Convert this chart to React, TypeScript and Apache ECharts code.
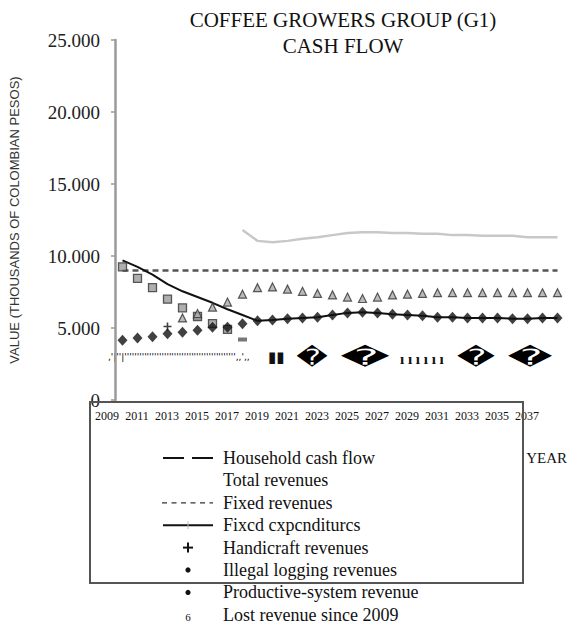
import React, { useEffect, useRef } from "react";
import * as echarts from "echarts";

const years = [
  "2009", "2010", "2011", "2012", "2013", "2014", "2015", "2016", "2017", "2018",
  "2019", "2020", "2021", "2022", "2023", "2024", "2025", "2026", "2027", "2028",
  "2029", "2030", "2031", "2032", "2033", "2034", "2035", "2036", "2037", "2038",
];

const yTicks = [0, 5000, 10000, 15000, 20000, 25000];

const totalRevenues = [
  null, null, null, null, null, null, null, null,
  11800, 11050, 10950, 11050, 11200, 11300, 11450, 11600, 11650, 11650, 11600, 11600,
  11550, 11550, 11450, 11450, 11400, 11400, 11400, 11300, 11300, 11300,
];

const fixedRevenues = [
  9000, 9000, 9000, 9000, 9000, 9000, 9000, 9000, 9000, 9000,
  9000, 9000, 9000, 9000, 9000, 9000, 9000, 9000, 9000, 9000,
  9000, 9000, 9000, 9000, 9000, 9000, 9000, 9000, 9000, 9000,
];

const fixedExpenditures = [
  9700, 9250, 8700, 8050, 7550, 7150, 6750, 6300, 5900, 5500,
  5550, 5650, 5700, 5750, 5900, 6050, 6100, 6050, 5950, 5900,
  5850, 5750, 5750, 5700, 5700, 5700, 5650, 5650, 5700, 5700,
];

const productiveRevenue = [
  4150, 4300, 4400, 4600, 4700, 4850, 5050, 5050, 5300, 5500,
  5550, 5650, 5700, 5750, 5900, 6050, 6100, 6050, 5950, 5900,
  5850, 5750, 5750, 5700, 5700, 5700, 5650, 5650, 5700, 5700,
];

const householdCashFlow = [
  null, null, null, null, 5700, 6000, 6450, 6800, 7350, 7800,
  7850, 7700, 7550, 7400, 7300, 7150, 7050, 7150, 7300, 7350,
  7400, 7450, 7450, 7450, 7450, 7450, 7450, 7450, 7450, 7450,
];

const lostRevenue = [
  9250, 8450, 7800, 7000, 6400, 5800, 5300, 4900, null, null,
  null, null, null, null, null, null, null, null, null, null,
  null, null, null, null, null, null, null, null, null, null,
];

const illegalLogging = [
  null, null, null, null, null, null, null, null, 4200, null,
  null, null, null, null, null, null, null, null, null, null,
  null, null, null, null, null, null, null, null, null, null,
];

const handicraftRevenues = [
  null, null, null, 5100, null, null, null, null, null, null,
  null, null, null, null, null, null, null, null, null, null,
  null, null, null, null, null, null, null, null, null, null,
];

const legendLabels = [
  "Household cash flow",
  "Total revenues",
  "Fixed revenues",
  "Fixcd cxpcnditurcs",
  "Handicraft revenues",
  "Illegal logging revenues",
  "Productive-system revenue",
  "Lost revenue since 2009",
];

const SERIF = "'Liberation Serif', 'Times New Roman', serif";
const SANS = "'Liberation Sans', 'DejaVu Sans', sans-serif";

const toScatter = (arr: (number | null)[]) => arr.map((v) => (v == null ? "-" : v));

const PLUS = "path://M4,0h2v4h4v2h-4v4h-2v-4h-4v-2h4z";

export default function App() {
  const ref = useRef<HTMLDivElement>(null);

  useEffect(() => {
    if (!ref.current) return;
    const chart = echarts.init(ref.current, undefined, { renderer: "svg" });

    const legendX = 188;
    const legendTextX = 223;
    const legendY0 = 458;
    const legendStep = 22.4;
    const rowY = (i: number) => legendY0 + legendStep * i;

    const legendGraphics: any[] = [];
    legendLabels.forEach((label, i) => {
      legendGraphics.push({
        type: "text",
        x: legendTextX,
        y: rowY(i),
        style: {
          text: label,
          fontFamily: SERIF,
          fontSize: 18,
          fill: "#111",
          textVerticalAlign: "middle",
          textAlign: "left",
        },
      });
    });
    legendGraphics.push(
      { type: "line", shape: { x1: 163, y1: rowY(0), x2: 184, y2: rowY(0) }, style: { stroke: "#111", lineWidth: 2 } },
      { type: "line", shape: { x1: 192, y1: rowY(0), x2: 213, y2: rowY(0) }, style: { stroke: "#111", lineWidth: 2 } },
      { type: "line", shape: { x1: 162, y1: rowY(2), x2: 213, y2: rowY(2) }, style: { stroke: "#333", lineWidth: 1.3, lineDash: [5, 4.5] } },
      { type: "line", shape: { x1: 163, y1: rowY(3), x2: 213, y2: rowY(3) }, style: { stroke: "#111", lineWidth: 2 } },
      { type: "line", shape: { x1: legendX, y1: rowY(3) - 4, x2: legendX, y2: rowY(3) + 4 }, style: { stroke: "#bbb", lineWidth: 1 } },
      { type: "line", shape: { x1: legendX - 5, y1: rowY(4), x2: legendX + 5, y2: rowY(4) }, style: { stroke: "#111", lineWidth: 2 } },
      { type: "line", shape: { x1: legendX, y1: rowY(4) - 5, x2: legendX, y2: rowY(4) + 5 }, style: { stroke: "#111", lineWidth: 2 } },
      { type: "circle", shape: { cx: legendX, cy: rowY(5), r: 2.6 }, style: { fill: "#111" } },
      { type: "circle", shape: { cx: legendX, cy: rowY(6), r: 2.6 }, style: { fill: "#111" } },
      {
        type: "text",
        x: legendX,
        y: rowY(7) + 2,
        style: { text: "6", fontFamily: SERIF, fontSize: 11, fill: "#111", textAlign: "center", textVerticalAlign: "middle" },
      }
    );

    const artifactY = 357;
    const artifacts: any[] = [
      {
        type: "text",
        x: 108,
        y: artifactY,
        style: {
          text: ",'|''|''''''''''''''''''''''''''''''''''''''''''''',,',,",
          fontFamily: "'DejaVu Sans'",
          fontSize: 9,
          fill: "#000",
          textVerticalAlign: "middle",
        },
      },
      {
        type: "text",
        x: 268,
        y: artifactY,
        style: { text: "▮▮", fontFamily: "'DejaVu Sans'", fontSize: 15, fill: "#111", textVerticalAlign: "middle" },
      },
      {
        type: "text",
        x: 400,
        y: artifactY + 2,
        style: { text: "ı ı ı ı ı ı", fontFamily: SERIF, fontWeight: "bold", fontSize: 15, fill: "#111", textVerticalAlign: "middle" },
      },
    ];
    [
      [312, 1.4],
      [365, 2.2],
      [476, 1.7],
      [530, 2.0],
    ].forEach(([cx, sx]) => {
      artifacts.push({
        type: "text",
        x: cx,
        y: artifactY,
        scaleX: sx,
        style: {
          text: "\uFFFD",
          fontFamily: "'DejaVu Sans'",
          fontSize: 22,
          fill: "#000",
          textAlign: "center",
          textVerticalAlign: "middle",
        },
      });
    });

    chart.setOption({
      animation: false,
      backgroundColor: "#fff",
      title: {
        text: "COFFEE GROWERS GROUP (G1)\nCASH FLOW",
        left: 338,
        top: 2,
        textAlign: "center",
        textStyle: {
          fontFamily: SERIF,
          fontSize: 21,
          fontWeight: "normal",
          color: "#111",
          lineHeight: 26,
        },
      },
      grid: { left: 112, right: 19, top: 40, bottom: 234, containLabel: false },
      xAxis: {
        type: "category",
        data: years,
        boundaryGap: true,
        name: "YEAR",
        nameLocation: "end",
        nameGap: 2,
        nameTextStyle: {
          fontFamily: SERIF,
          fontSize: 15,
          color: "#111",
          align: "right",
          verticalAlign: "top",
          padding: [50, 0, 0, 0],
        },
        axisLine: { show: false },
        axisTick: { show: false },
        axisLabel: {
          interval: 1,
          fontFamily: SERIF,
          fontSize: 12,
          color: "#111",
          margin: 10,
          padding: [0, 31, 0, 0],
        },
        splitLine: { show: false },
      },
      yAxis: {
        type: "value",
        min: yTicks[0],
        max: yTicks[yTicks.length - 1],
        interval: yTicks[1] - yTicks[0],
        name: "VALUE (THOUSANDS OF COLOMBIAN PESOS)",
        nameLocation: "middle",
        nameRotate: 90,
        nameGap: 94,
        nameTextStyle: { fontFamily: SANS, fontSize: 13, color: "#333" },
        axisLine: { show: true, lineStyle: { color: "#9a9a9a", width: 2.5 } },
        axisTick: { show: true, length: 4, lineStyle: { color: "#9a9a9a", width: 1.5 } },
        splitLine: { show: false },
        axisLabel: {
          fontFamily: SERIF,
          fontSize: 19,
          color: "#222",
          margin: 15,
          formatter: (v: number) => (v === 0 ? "0" : `${v / 1000}.000`),
        },
      },
      series: [
        {
          name: "Total revenues",
          type: "line",
          data: totalRevenues,
          showSymbol: false,
          connectNulls: false,
          lineStyle: { color: "#c8c8c8", width: 2.5 },
          itemStyle: { color: "#c8c8c8" },
          z: 1,
        },
        {
          name: "Fixed revenues",
          type: "line",
          data: fixedRevenues,
          showSymbol: false,
          lineStyle: { color: "#555", width: 2.5, type: [6, 4] },
          itemStyle: { color: "#555" },
          z: 2,
        },
        {
          name: "Fixed expenditures",
          type: "line",
          data: fixedExpenditures,
          showSymbol: false,
          lineStyle: { color: "#111", width: 2 },
          itemStyle: { color: "#111" },
          z: 3,
        },
        {
          name: "Lost revenue since 2009",
          type: "scatter",
          data: toScatter(lostRevenue),
          symbol: "rect",
          symbolSize: 8,
          itemStyle: { color: "#9a9a9a", borderColor: "#333", borderWidth: 1.3 },
          z: 4,
        },
        {
          name: "Household cash flow",
          type: "scatter",
          data: toScatter(householdCashFlow),
          symbol: "triangle",
          symbolSize: 8,
          itemStyle: { color: "#aaa", borderColor: "#333", borderWidth: 1.2 },
          z: 4,
        },
        {
          name: "Illegal logging revenues",
          type: "scatter",
          data: toScatter(illegalLogging),
          symbol: "rect",
          symbolSize: [9, 4],
          itemStyle: { color: "#555" },
          z: 4,
        },
        {
          name: "Handicraft revenues",
          type: "scatter",
          data: toScatter(handicraftRevenues),
          symbol: PLUS,
          symbolSize: 8,
          itemStyle: { color: "#111" },
          z: 5,
        },
        {
          name: "Productive-system revenue",
          type: "scatter",
          data: toScatter(productiveRevenue),
          symbol: "diamond",
          symbolSize: [10, 11],
          itemStyle: { color: "#111" },
          z: 5,
        },
      ],
      graphic: [
        {
          type: "rect",
          shape: { x: 90, y: 402, width: 433, height: 181 },
          style: { fill: "none", stroke: "#555", lineWidth: 2 },
          z: 10,
        },
        ...legendGraphics,
        ...artifacts,
      ],
    });

    return () => chart.dispose();
  }, []);

  return (
    <div
      ref={ref}
      style={{ position: "absolute", left: 0, top: 0, width: 584, height: 634 }}
    />
  );
}
